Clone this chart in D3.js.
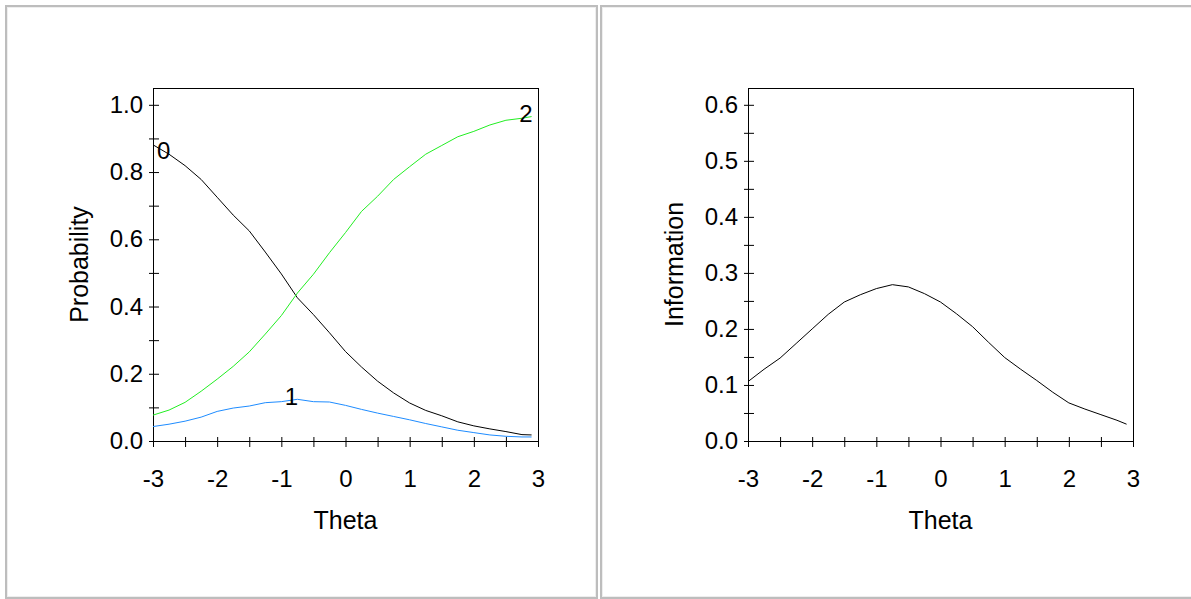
<!DOCTYPE html>
<html>
<head>
<meta charset="utf-8">
<script src="https://cdn.jsdelivr.net/npm/d3@7"></script>
<style>
  body { margin: 0; background: #fff; }
  svg { display: block; }
  text { font-family: "Liberation Sans", Arial, sans-serif; fill: #000; }
</style>
</head>
<body>
<div id="chart"></div>
<script>
// theta grid the curves were read at
var theta = [-3, -2.75, -2.5, -2.25, -2, -1.75, -1.5, -1.25, -1, -0.75, -0.5, -0.25,
             0, 0.25, 0.5, 0.75, 1, 1.25, 1.5, 1.75, 2, 2.25, 2.5, 2.75, 2.9];

// category response curves
var prob0 = [0.881, 0.853, 0.819, 0.778, 0.725, 0.672, 0.625, 0.562, 0.497, 0.426, 0.376, 0.322,
             0.266, 0.220, 0.178, 0.143, 0.113, 0.091, 0.075, 0.057, 0.045, 0.036, 0.028, 0.019, 0.018];
var prob1 = [0.043, 0.050, 0.059, 0.071, 0.088, 0.098, 0.104, 0.114, 0.117, 0.124, 0.117, 0.116,
             0.106, 0.094, 0.083, 0.073, 0.063, 0.052, 0.042, 0.032, 0.025, 0.018, 0.014, 0.012, 0.012];
var prob2 = [0.077, 0.092, 0.115, 0.148, 0.184, 0.222, 0.265, 0.318, 0.373, 0.440, 0.496, 0.560,
             0.620, 0.683, 0.728, 0.778, 0.816, 0.853, 0.879, 0.905, 0.921, 0.940, 0.954, 0.960, 0.965];

// item information
var info = [0.106, 0.128, 0.148, 0.174, 0.200, 0.226, 0.248, 0.261, 0.272, 0.279, 0.275, 0.263,
            0.248, 0.227, 0.204, 0.176, 0.149, 0.128, 0.108, 0.087, 0.068, 0.057, 0.047, 0.037, 0.030];

var curveNames = ["0", "1", "2"];

// ticks
var xMajor = [-3, -2, -1, 0, 1, 2, 3];
var xMinor = [-2.5, -1.5, -0.5, 0.5, 1.5, 2.5];
var probMajor = [0, 0.2, 0.4, 0.6, 0.8, 1.0];
var probMinor = [0.1, 0.3, 0.5, 0.7, 0.9];
var infoMajor = [0, 0.1, 0.2, 0.3, 0.4, 0.5, 0.6];
var infoMinor = [0.05, 0.15, 0.25, 0.35, 0.45, 0.55];

var W = 1191, H = 599;
var svg = d3.select("#chart").append("svg")
    .attr("width", W)
    .attr("height", H);

var m = { left: 148, top: 88 },
    pw = 385, ph = 353;

function panel(px, pwidth) {
  // sunken window-style frame
  svg.append("rect")
      .attr("x", px + 1).attr("y", 6)
      .attr("width", pwidth).attr("height", 592)
      .attr("fill", "none")
      .attr("stroke", "#bdbdbd")
      .attr("stroke-width", 2);
  svg.append("rect")
      .attr("x", px + 2.5).attr("y", 7.5)
      .attr("width", pwidth - 3).attr("height", 589)
      .attr("fill", "none")
      .attr("stroke", "#eeeeee")
      .attr("stroke-width", 1);
  return svg.append("g").attr("transform", "translate(" + (px + m.left) + "," + m.top + ")");
}

function axes(g, y, yMajor, yMinor, yLabel) {
  var x = d3.scaleLinear().domain([-3, 3]).range([0, pw]);

  var xa = g.append("g")
      .attr("transform", "translate(0," + ph + ")")
      .call(d3.axisBottom(x).tickValues(xMajor).tickSize(6).tickPadding(23)
            .tickFormat(function(d) { return String(d); }));
  var xm = g.append("g")
      .attr("transform", "translate(0," + ph + ")")
      .call(d3.axisBottom(x).tickValues(xMinor).tickSize(6).tickFormat(""));

  var ya = g.append("g")
      .call(d3.axisLeft(y).tickValues(yMajor).tickSize(4).tickPadding(6)
            .tickFormat(d3.format(".1f")));
  var ym = g.append("g")
      .call(d3.axisLeft(y).tickValues(yMinor).tickSize(4).tickFormat(""));

  [xa, xm, ya, ym].forEach(function(a) {
    a.select(".domain").remove();
    a.selectAll("text").attr("font-size", 24).attr("font-family", null);
  });
  // ticks cross the axis line
  xa.selectAll(".tick line").attr("y1", -4).attr("y2", 6);
  xm.selectAll(".tick line").attr("y1", -4).attr("y2", 6);
  ya.selectAll(".tick line").attr("x1", 6).attr("x2", -4);
  ym.selectAll(".tick line").attr("x1", 6).attr("x2", -4);

  g.append("rect")
      .attr("x", 0).attr("y", 0)
      .attr("width", pw).attr("height", ph)
      .attr("fill", "none")
      .attr("stroke", "#000")
      .attr("shape-rendering", "crispEdges");

  g.append("text")
      .attr("x", pw / 2).attr("y", ph + 88)
      .attr("text-anchor", "middle")
      .attr("font-size", 25)
      .text("Theta");

  g.append("text")
      .attr("transform", "translate(-65," + (ph / 2) + ") rotate(-90)")
      .attr("text-anchor", "middle")
      .attr("font-size", 25)
      .text(yLabel);

  return x;
}

// left: category probabilities
var g1 = panel(5, 591);
var y1 = d3.scaleLinear().domain([0, 1.05]).range([ph, 0]);
var x1 = axes(g1, y1, probMajor, probMinor, "Probability");

var series = [prob0, prob1, prob2];
var colors = ["#000000", "#1e8cff", "#22ee22"];
var line1 = d3.line()
    .x(function(d, i) { return x1(theta[i]); })
    .y(function(d) { return y1(d); });

g1.selectAll(".curve")
    .data(series)
  .enter().append("path")
    .attr("class", "curve")
    .attr("d", line1)
    .attr("fill", "none")
    .attr("stroke", function(d, i) { return colors[i]; })
    .attr("stroke-width", 1);

// curve labels: start of 0, peak of 1, end of 2
var iPeak = d3.maxIndex(prob1), iLast = theta.length - 1;
var labelPos = [
  { i: 0, v: prob0[0], dx: 4, dy: 14, anchor: "start" },
  { i: iPeak, v: prob1[iPeak], dx: -6, dy: 6, anchor: "middle" },
  { i: iLast, v: prob2[iLast], dx: 1, dy: 5, anchor: "end" }
];
g1.selectAll(".lab")
    .data(labelPos)
  .enter().append("text")
    .attr("class", "lab")
    .attr("x", function(d) { return x1(theta[d.i]) + d.dx; })
    .attr("y", function(d) { return y1(d.v) + d.dy; })
    .attr("text-anchor", function(d) { return d.anchor; })
    .attr("font-size", 24)
    .text(function(d, i) { return curveNames[i]; });

// right: information
var g2 = panel(600, 600);
var y2 = d3.scaleLinear().domain([0, 0.63]).range([ph, 0]);
var x2 = axes(g2, y2, infoMajor, infoMinor, "Information");

g2.append("path")
    .datum(info)
    .attr("d", d3.line()
        .x(function(d, i) { return x2(theta[i]); })
        .y(function(d) { return y2(d); }))
    .attr("fill", "none")
    .attr("stroke", "#000")
    .attr("stroke-width", 1);
</script>
</body>
</html>
